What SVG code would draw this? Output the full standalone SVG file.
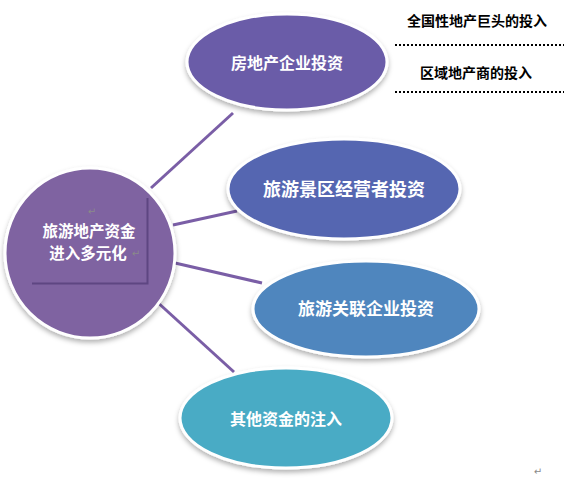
<svg xmlns="http://www.w3.org/2000/svg" width="568" height="480" viewBox="0 0 568 480">
<style>
.node{stroke:#ffffff;stroke-width:3;filter:url(#sh)}
.lbl{font-family:"Noto Sans CJK SC","Liberation Sans",sans-serif;fill:#ffffff;font-weight:bold;text-anchor:middle;dominant-baseline:central}
.side{font-family:"Noto Sans CJK SC","Liberation Sans",sans-serif;fill:#000000;font-weight:bold;font-size:14px;text-anchor:middle;dominant-baseline:central}
.mark{font-family:"DejaVu Sans",sans-serif;fill:#8a8a8a;font-size:10px;text-anchor:middle;dominant-baseline:central}
.con{stroke:#7a5ea6;stroke-width:3;fill:none}
.dot{stroke:#000000;stroke-width:2;stroke-dasharray:2 2;fill:none}
</style>
<defs>
<filter id="sh" x="-20%" y="-20%" width="140%" height="150%">
<feDropShadow dx="0" dy="3" stdDeviation="2.5" flood-color="#000000" flood-opacity="0.3"/>
</filter>
</defs>
<rect width="568" height="480" fill="#ffffff"/>
<g id="connectors">
<line class="con" x1="151" y1="188" x2="233" y2="113"/>
<line class="con" x1="173" y1="225" x2="237" y2="211"/>
<line class="con" x1="175" y1="263" x2="262" y2="283"/>
<line class="con" x1="155" y1="300" x2="234" y2="372"/>
</g>
<g id="center">
<circle class="node" cx="90" cy="253" r="85" fill="#7f63a1"/>
<polyline points="32,283.5 147.5,283.5 147.5,198" fill="none" stroke="#5e4682" stroke-width="2"/>
<text class="mark" x="92" y="211">↵</text>
<text class="lbl" x="89" y="230" font-size="15.5">旅游地产资金</text>
<text class="lbl" x="88" y="252" font-size="15.5">进入多元化</text>
<text class="mark" x="136" y="253">↵</text>
</g>
<g id="n1">
<ellipse class="node" cx="287" cy="62" rx="100" ry="48" fill="#6a5ba8"/>
<text class="lbl" x="287" y="62" font-size="16">房地产企业投资</text>
</g>
<g id="n2">
<ellipse class="node" cx="344" cy="189" rx="116" ry="50" fill="#5566b1"/>
<text class="lbl" x="344" y="188" font-size="18">旅游景区经营者投资</text>
</g>
<g id="n3">
<ellipse class="node" cx="366" cy="309" rx="113" ry="48" fill="#4f86be"/>
<text class="lbl" x="366" y="307" font-size="17">旅游关联企业投资</text>
</g>
<g id="n4">
<ellipse class="node" cx="286" cy="418" rx="106" ry="50" fill="#4aabc5"/>
<text class="lbl" x="286" y="418" font-size="16">其他资金的注入</text>
</g>
<g id="side-notes">
<text class="side" x="477" y="20">全国性地产巨头的投入</text>
<line class="dot" x1="395" y1="45" x2="564" y2="45"/>
<text class="side" x="476" y="72">区域地产商的投入</text>
<line class="dot" x1="395" y1="92" x2="564" y2="92"/>
</g>
<text class="mark" x="538" y="471">↵</text>
</svg>
